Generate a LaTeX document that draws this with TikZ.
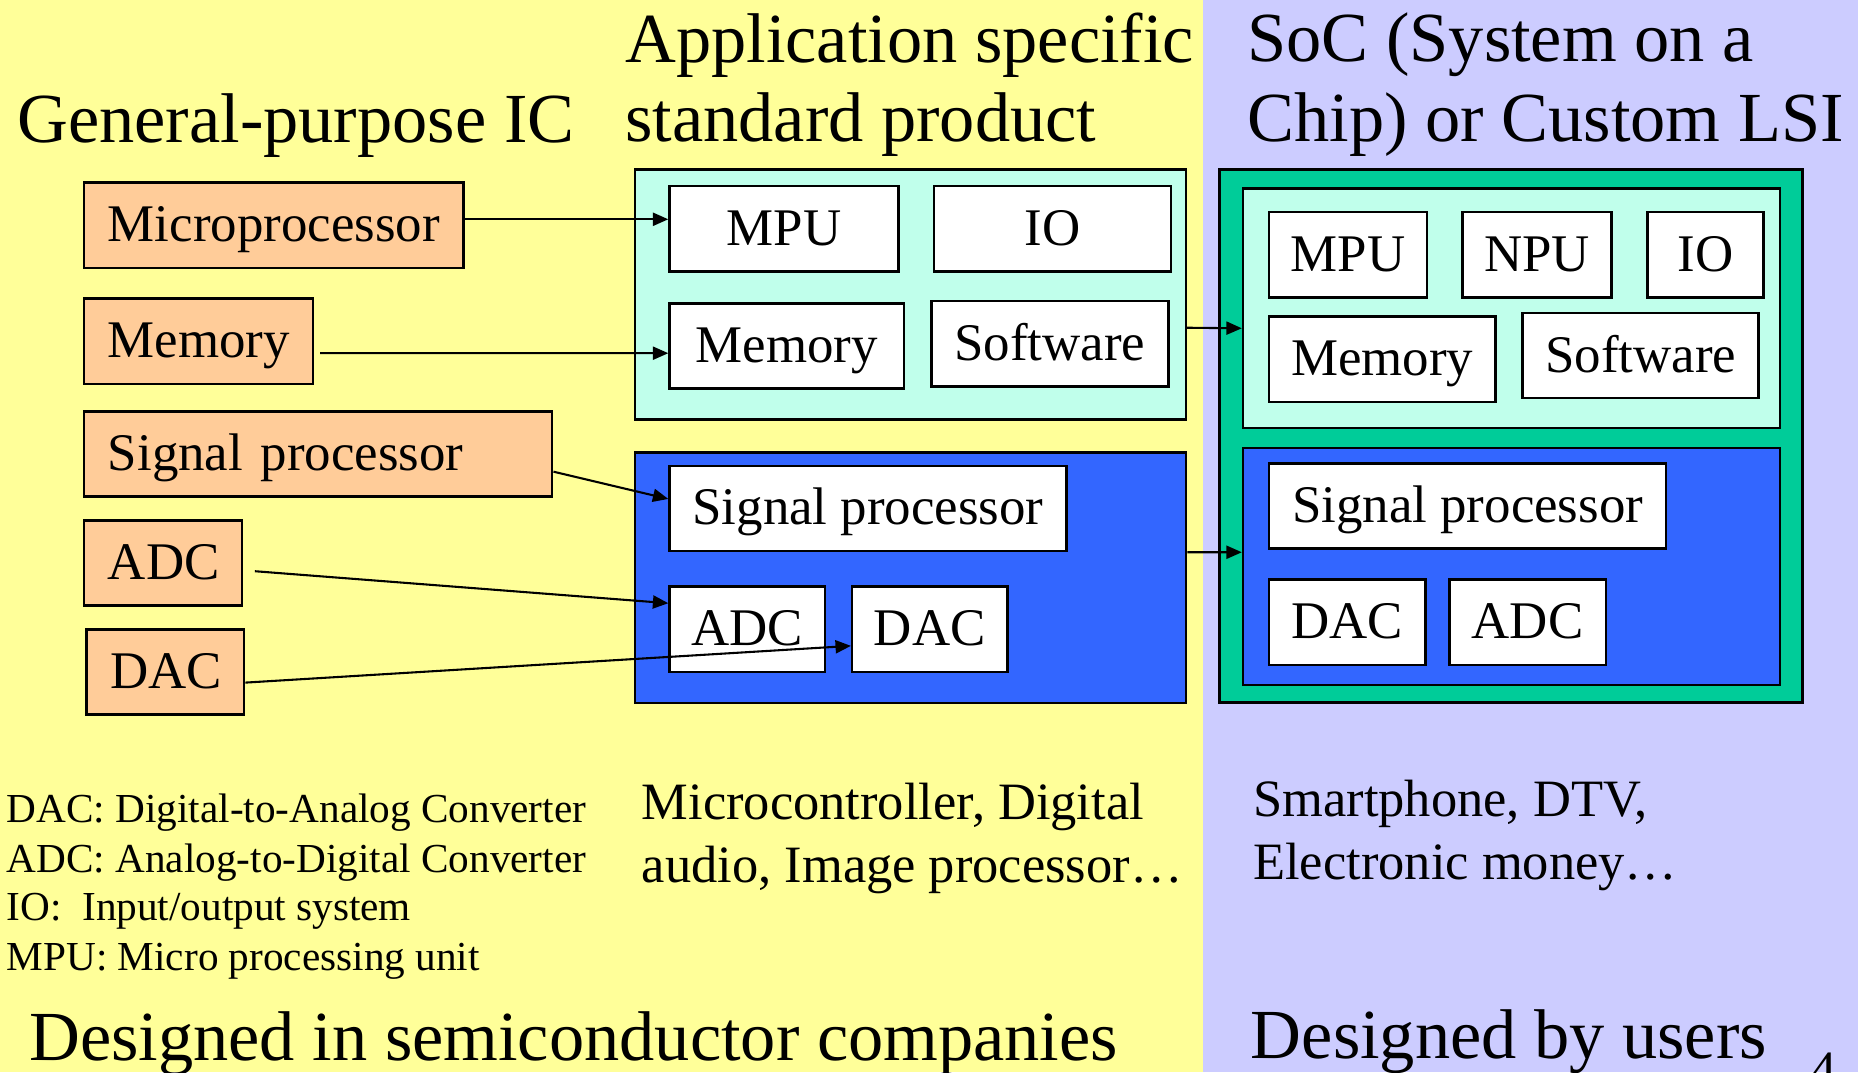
\documentclass[tikz,border=0pt]{standalone}
\usepackage{fontspec}
\setmainfont{Liberation Serif}
\usepackage{xcolor}
\usepackage{tikz}
\usetikzlibrary{arrows.meta,positioning}
\definecolor{SlideYellow}{HTML}{FFFF99}
\definecolor{SlideLilac}{HTML}{CCCCFF}
\definecolor{PartOrange}{HTML}{FFCC99}
\definecolor{AsspCyan}{HTML}{C0FFEB}
\definecolor{AsspBlue}{HTML}{3366FF}
\definecolor{SocGreen}{HTML}{00CC99}

\begin{document}
\begin{tikzpicture}[
  x=0.1mm,y=-0.1mm,
  part/.style={draw=black,line width=0.6pt,fill=PartOrange,anchor=north west,
               minimum height=7.2mm,inner xsep=2mm,inner ysep=0pt,align=left,
               font=\fontsize{12.7}{15}\selectfont,text height=1em,text depth=0.21em},
  box/.style={draw=black,line width=0.6pt,fill=white,anchor=north west,
              minimum height=7.2mm,inner sep=0pt,
              font=\fontsize{12.7}{15}\selectfont,text height=1em,text depth=0.21em},
  panel/.style={draw=black,line width=0.6pt,anchor=north west,inner sep=0pt},
  head/.style={anchor=base west,inner sep=0pt,font=\fontsize{16.9}{19}\selectfont},
  usage/.style={anchor=base west,inner sep=0pt,font=\fontsize{12.6}{15}\selectfont},
  abbr/.style={anchor=base west,inner sep=0pt,font=\fontsize{9.9}{12}\selectfont},
  arrow/.style={-{Triangle[length=1.3mm,width=1.1mm]},line width=0.5pt,color=black}
]
  \useasboundingbox (0,0) rectangle (1568,905);
  \clip (0,0) rectangle (1568,905);
  \fill[SlideYellow] (0,0) rectangle (1015,905);
  \fill[SlideLilac] (1015,0) rectangle (1568,905);

  % headings
  \node[head] (hGen) at (14,120) {General-purpose IC};
  \node[head] (hAsspA) at (527,53) {Application specific};
  \node[head] (hAsspB) at (527,119) {standard product};
  \node[head] (hSocA) at (1052,52) {SoC (System on a};
  \node[head] (hSocB) at (1052,119) {Chip) or Custom LSI};

  % general-purpose parts
  \node[part,text width=28mm] (partMicro) at (70,153) {Microprocessor};
  \node[part,text width=15.3mm] (partMem) at (70,251) {Memory};
  \node[part,text width=35.5mm] (partSig) at (70,346) {Signal processor};
  \node[part,text width=9.3mm] (partAdc) at (70,438) {ADC};
  \node[part,text width=9.3mm] (partDac) at (72,530) {DAC};

  % application specific standard product
  \node[panel,fill=AsspCyan,minimum width=46.5mm,minimum height=21.1mm] (asspTop) at (535,142) {};
  \node[panel,fill=AsspBlue,minimum width=46.5mm,minimum height=21.1mm] (asspBot) at (535,381) {};
  \node[box,minimum width=19.3mm] (asspMpu) at (564,156) {MPU};
  \node[box,minimum width=20mm,right=2.8mm of asspMpu] (asspIo) {IO};
  \node[box,minimum width=19.8mm] (asspMem) at (564,255) {Memory};
  \node[box,minimum width=20mm] (asspSw) at (785,253) {Software};
  \node[box,minimum width=33.5mm] (asspSig) at (564,392) {Signal processor};
  \node[box,minimum width=13.1mm] (asspAdc) at (564,494) {ADC};
  \node[box,minimum width=13.1mm,right=2.1mm of asspAdc] (asspDac) {DAC};

  % SoC
  \node[panel,fill=SocGreen,minimum width=49.2mm,minimum height=45mm] (socOuter) at (1028,142) {};
  \node[panel,fill=AsspCyan,minimum width=45.3mm,minimum height=20.2mm] (socTop) at (1048,158) {};
  \node[panel,fill=AsspBlue,minimum width=45.3mm,minimum height=20mm] (socBot) at (1048,377) {};
  \node[box,minimum width=13.3mm] (socMpu) at (1070,178) {MPU};
  \node[box,minimum width=12.6mm,right=2.8mm of socMpu] (socNpu) {NPU};
  \node[box,minimum width=9.8mm,right=2.8mm of socNpu] (socIo) {IO};
  \node[box,minimum width=19.1mm] (socMem) at (1070,266) {Memory};
  \node[box,minimum width=19.9mm] (socSw) at (1284,263) {Software};
  \node[box,minimum width=33.5mm] (socSig) at (1070,390) {Signal processor};
  \node[box,minimum width=13.2mm] (socDac) at (1070,488) {DAC};
  \node[box,minimum width=13.2mm,right=1.8mm of socDac] (socAdc) {ADC};

  % connectors
  \draw[arrow] ([yshift=0.5mm]partMicro.east) -- ([yshift=0.8mm]asspMpu.west);
  \draw[arrow] ([shift={(0.5mm,-1mm)}]partMem.east) -- ([yshift=-0.6mm]asspMem.west);
  \draw[arrow] ([yshift=-1.5mm]partSig.east) -- ([yshift=0.8mm]asspSig.west);
  \draw[arrow] ([shift={(1mm,-0.7mm)}]partAdc.east) -- ([yshift=2.2mm]asspAdc.west);
  \draw[arrow] ([yshift=-0.9mm]partDac.east) -- ([yshift=-1.4mm]asspDac.west);
  \draw[arrow] ([shift={(-0.2mm,-2.8mm)}]asspTop.east) -- ([yshift=-1.7mm]socTop.west);
  \draw[arrow] ([yshift=2.15mm]asspBot.east) -- ([yshift=1.2mm]socBot.west);

  % abbreviations and examples
  \node[abbr] (nDac) at (5,694) {DAC: Digital-to-Analog Converter};
  \node[abbr] (nAdc) at (5,736) {ADC: Analog-to-Digital Converter};
  \node[abbr] (nIo) at (5,777) {IO:\ \ Input/output system};
  \node[abbr] (nMpu) at (5,819) {MPU: Micro processing unit};
  \node[usage] (uAsspA) at (541,692) {Microcontroller, Digital};
  \node[usage] (uAsspB) at (541,745) {audio, Image processor…};
  \node[usage] (uSocA) at (1057,689) {Smartphone, DTV,};
  \node[usage] (uSocB) at (1057,742) {Electronic money…};
  \node[head] (fGen) at (24,895) {Designed in semiconductor companies};
  \node[head] (fSoc) at (1055,893) {Designed by users};
  \node[usage] (pageNo) at (1527,918) {4};
\end{tikzpicture}
\end{document}
